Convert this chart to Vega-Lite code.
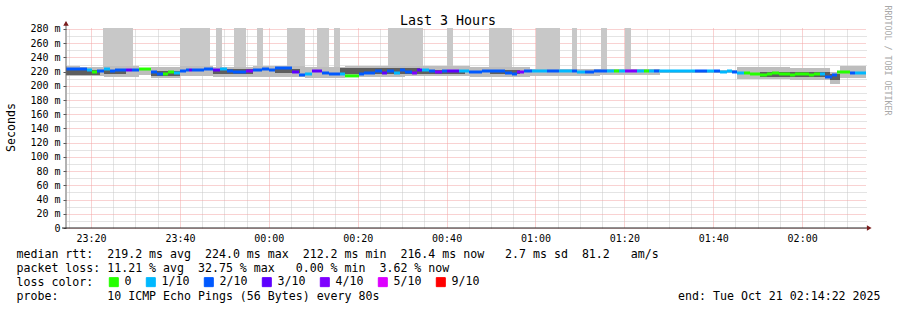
{
  "$schema": "https://vega.github.io/schema/vega-lite/v6.json",
  "width": 800,
  "height": 200,
  "autosize": {"type": "none"},
  "padding": {"left": 66, "top": 28, "right": 31, "bottom": 82},
  "background": "white",
  "config": {"font": "DejaVu Sans Mono", "view": {"stroke": null}},
  "title": {"text": "Last 3 Hours", "frame": "group", "anchor": "middle", "dx": -18, "offset": -33, "baseline": "alphabetic", "fontSize": 13.3, "fontWeight": "normal", "font": "DejaVu Sans Mono", "color": "#000"},
  "datasets": {
    "lost": [
      {"t0": 22.69, "t1": 29.44, "lo": 222, "hi": 290},
      {"t0": 40.02, "t1": 46.77, "lo": 222, "hi": 290},
      {"t0": 48.12, "t1": 49.47, "lo": 222, "hi": 290},
      {"t0": 52.17, "t1": 54.87, "lo": 222, "hi": 290},
      {"t0": 57.34, "t1": 58.69, "lo": 222, "hi": 290},
      {"t0": 64.09, "t1": 68.14, "lo": 222, "hi": 290},
      {"t0": 70.84, "t1": 73.54, "lo": 222, "hi": 290},
      {"t0": 74.67, "t1": 76.02, "lo": 222, "hi": 290},
      {"t0": 86.82, "t1": 94.69, "lo": 222, "hi": 290},
      {"t0": 100.09, "t1": 101.44, "lo": 222, "hi": 290},
      {"t0": 109.54, "t1": 114.72, "lo": 222, "hi": 290},
      {"t0": 120.12, "t1": 125.52, "lo": 222, "hi": 290},
      {"t0": 128.22, "t1": 129.34, "lo": 222, "hi": 290},
      {"t0": 134.74, "t1": 136.09, "lo": 222, "hi": 290},
      {"t0": 140.14, "t1": 141.49, "lo": 222, "hi": 290}
    ],
    "smoke": [
      {"t0": 14.37, "t1": 17.52, "lo": 213.9, "hi": 227.9},
      {"t0": 17.52, "t1": 22.92, "lo": 213.9, "hi": 226.5},
      {"t0": 22.92, "t1": 30.79, "lo": 212.5, "hi": 227.9},
      {"t0": 30.79, "t1": 33.49, "lo": 215.3, "hi": 225.1},
      {"t0": 33.49, "t1": 40.02, "lo": 211.0, "hi": 226.5},
      {"t0": 40.02, "t1": 47.44, "lo": 213.9, "hi": 227.9},
      {"t0": 47.44, "t1": 56.44, "lo": 212.5, "hi": 226.5},
      {"t0": 56.44, "t1": 68.14, "lo": 212.5, "hi": 227.9},
      {"t0": 68.14, "t1": 77.14, "lo": 211.0, "hi": 226.5},
      {"t0": 77.14, "t1": 90.64, "lo": 212.5, "hi": 227.9},
      {"t0": 90.64, "t1": 105.27, "lo": 213.9, "hi": 227.9},
      {"t0": 105.27, "t1": 118.77, "lo": 212.5, "hi": 226.5},
      {"t0": 118.77, "t1": 134.52, "lo": 213.9, "hi": 223.7},
      {"t0": 134.52, "t1": 148.02, "lo": 215.3, "hi": 223.7},
      {"t0": 148.02, "t1": 165.34, "lo": 218.1, "hi": 222.3},
      {"t0": 165.34, "t1": 177.27, "lo": 209.6, "hi": 226.5},
      {"t0": 177.27, "t1": 186.27, "lo": 208.2, "hi": 225.1},
      {"t0": 186.27, "t1": 188.52, "lo": 202.6, "hi": 219.5},
      {"t0": 188.52, "t1": 194.37, "lo": 211.0, "hi": 227.9}
    ],
    "core": [
      {"t0": 14.37, "t1": 22.02, "lo": 215.3, "hi": 222.3},
      {"t0": 22.92, "t1": 27.87, "lo": 216.7, "hi": 222.3},
      {"t0": 33.49, "t1": 40.02, "lo": 213.9, "hi": 220.9},
      {"t0": 47.44, "t1": 56.44, "lo": 216.7, "hi": 223.7},
      {"t0": 61.39, "t1": 67.02, "lo": 218.1, "hi": 223.7},
      {"t0": 76.02, "t1": 94.02, "lo": 216.7, "hi": 225.1},
      {"t0": 94.02, "t1": 104.14, "lo": 216.7, "hi": 222.3},
      {"t0": 109.77, "t1": 116.52, "lo": 216.7, "hi": 222.3},
      {"t0": 170.52, "t1": 186.27, "lo": 212.5, "hi": 219.5},
      {"t0": 186.27, "t1": 188.52, "lo": 208.2, "hi": 216.7}
    ],
    "median": [
      {"t0": 14.37, "t1": 19.09, "v": 223.7, "loss": "2/10"},
      {"t0": 19.09, "t1": 20.22, "v": 222.3, "loss": "1/10"},
      {"t0": 20.22, "t1": 21.34, "v": 219.5, "loss": "0"},
      {"t0": 21.34, "t1": 22.92, "v": 220.9, "loss": "2/10"},
      {"t0": 22.92, "t1": 24.27, "v": 223.7, "loss": "1/10"},
      {"t0": 24.27, "t1": 25.39, "v": 220.9, "loss": "2/10"},
      {"t0": 25.39, "t1": 27.87, "v": 222.3, "loss": "2/10"},
      {"t0": 27.87, "t1": 29.22, "v": 222.3, "loss": "3/10"},
      {"t0": 29.22, "t1": 30.79, "v": 222.3, "loss": "2/10"},
      {"t0": 30.79, "t1": 33.49, "v": 223.7, "loss": "0"},
      {"t0": 33.49, "t1": 34.84, "v": 219.5, "loss": "2/10"},
      {"t0": 34.84, "t1": 36.19, "v": 216.7, "loss": "2/10"},
      {"t0": 36.19, "t1": 37.32, "v": 216.7, "loss": "0"},
      {"t0": 37.32, "t1": 38.67, "v": 219.5, "loss": "0"},
      {"t0": 38.67, "t1": 40.02, "v": 218.1, "loss": "1/10"},
      {"t0": 40.02, "t1": 41.37, "v": 220.9, "loss": "2/10"},
      {"t0": 41.37, "t1": 42.04, "v": 222.3, "loss": "2/10"},
      {"t0": 42.04, "t1": 42.72, "v": 222.3, "loss": "3/10"},
      {"t0": 42.72, "t1": 45.42, "v": 222.3, "loss": "2/10"},
      {"t0": 45.42, "t1": 47.44, "v": 223.7, "loss": "2/10"},
      {"t0": 47.44, "t1": 49.02, "v": 222.3, "loss": "3/10"},
      {"t0": 49.02, "t1": 50.59, "v": 223.7, "loss": "1/10"},
      {"t0": 50.59, "t1": 51.94, "v": 220.9, "loss": "2/10"},
      {"t0": 51.94, "t1": 54.87, "v": 219.5, "loss": "2/10"},
      {"t0": 54.87, "t1": 56.44, "v": 220.9, "loss": "4/10"},
      {"t0": 56.44, "t1": 58.47, "v": 222.3, "loss": "2/10"},
      {"t0": 58.47, "t1": 60.04, "v": 223.7, "loss": "2/10"},
      {"t0": 60.04, "t1": 61.39, "v": 222.3, "loss": "2/10"},
      {"t0": 61.39, "t1": 65.22, "v": 225.1, "loss": "2/10"},
      {"t0": 65.22, "t1": 66.79, "v": 219.5, "loss": "3/10"},
      {"t0": 66.79, "t1": 68.14, "v": 215.3, "loss": "2/10"},
      {"t0": 68.14, "t1": 69.72, "v": 216.7, "loss": "1/10"},
      {"t0": 69.72, "t1": 71.97, "v": 220.9, "loss": "3/10"},
      {"t0": 71.97, "t1": 73.54, "v": 218.1, "loss": "2/10"},
      {"t0": 73.54, "t1": 76.02, "v": 216.7, "loss": "2/10"},
      {"t0": 76.02, "t1": 77.14, "v": 216.7, "loss": "1/10"},
      {"t0": 77.14, "t1": 80.29, "v": 214.0, "loss": "0"},
      {"t0": 80.29, "t1": 81.42, "v": 216.7, "loss": "2/10"},
      {"t0": 81.42, "t1": 83.89, "v": 218.1, "loss": "2/10"},
      {"t0": 83.89, "t1": 85.47, "v": 220.9, "loss": "2/10"},
      {"t0": 85.47, "t1": 86.59, "v": 218.1, "loss": "3/10"},
      {"t0": 86.59, "t1": 88.17, "v": 220.9, "loss": "2/10"},
      {"t0": 88.17, "t1": 89.52, "v": 218.1, "loss": "1/10"},
      {"t0": 89.52, "t1": 90.64, "v": 222.3, "loss": "2/10"},
      {"t0": 90.64, "t1": 92.22, "v": 219.5, "loss": "2/10"},
      {"t0": 92.22, "t1": 93.34, "v": 218.1, "loss": "4/10"},
      {"t0": 93.34, "t1": 94.47, "v": 222.3, "loss": "3/10"},
      {"t0": 94.47, "t1": 96.04, "v": 222.3, "loss": "1/10"},
      {"t0": 96.04, "t1": 97.39, "v": 220.9, "loss": "2/10"},
      {"t0": 97.39, "t1": 98.97, "v": 219.5, "loss": "4/10"},
      {"t0": 98.97, "t1": 100.09, "v": 220.9, "loss": "2/10"},
      {"t0": 100.09, "t1": 102.79, "v": 220.9, "loss": "3/10"},
      {"t0": 102.79, "t1": 105.04, "v": 220.9, "loss": "1/10"},
      {"t0": 105.04, "t1": 107.97, "v": 219.5, "loss": "2/10"},
      {"t0": 107.97, "t1": 113.14, "v": 220.9, "loss": "2/10"},
      {"t0": 113.14, "t1": 114.72, "v": 218.1, "loss": "2/10"},
      {"t0": 114.72, "t1": 115.84, "v": 216.7, "loss": "2/10"},
      {"t0": 115.84, "t1": 117.42, "v": 219.5, "loss": "4/10"},
      {"t0": 117.42, "t1": 119.22, "v": 220.9, "loss": "2/10"},
      {"t0": 119.22, "t1": 122.59, "v": 220.9, "loss": "1/10"},
      {"t0": 122.59, "t1": 125.29, "v": 220.9, "loss": "2/10"},
      {"t0": 125.29, "t1": 128.22, "v": 220.9, "loss": "1/10"},
      {"t0": 128.22, "t1": 129.34, "v": 220.9, "loss": "2/10"},
      {"t0": 129.34, "t1": 131.14, "v": 219.5, "loss": "1/10"},
      {"t0": 131.14, "t1": 133.17, "v": 219.5, "loss": "2/10"},
      {"t0": 133.17, "t1": 136.09, "v": 220.9, "loss": "2/10"},
      {"t0": 136.09, "t1": 137.67, "v": 220.9, "loss": "1/10"},
      {"t0": 137.67, "t1": 138.79, "v": 220.9, "loss": "0"},
      {"t0": 138.79, "t1": 140.14, "v": 220.9, "loss": "1/10"},
      {"t0": 140.14, "t1": 142.84, "v": 220.9, "loss": "4/10"},
      {"t0": 142.84, "t1": 144.42, "v": 220.9, "loss": "1/10"},
      {"t0": 144.42, "t1": 145.54, "v": 220.9, "loss": "0"},
      {"t0": 145.54, "t1": 146.67, "v": 220.9, "loss": "1/10"},
      {"t0": 146.67, "t1": 147.79, "v": 220.9, "loss": "2/10"},
      {"t0": 147.79, "t1": 149.59, "v": 220.9, "loss": "1/10"},
      {"t0": 149.59, "t1": 155.89, "v": 220.9, "loss": "1/10"},
      {"t0": 155.89, "t1": 158.59, "v": 220.9, "loss": "2/10"},
      {"t0": 158.59, "t1": 160.17, "v": 220.9, "loss": "1/10"},
      {"t0": 160.17, "t1": 161.52, "v": 220.9, "loss": "2/10"},
      {"t0": 161.52, "t1": 163.09, "v": 219.5, "loss": "1/10"},
      {"t0": 163.09, "t1": 164.22, "v": 220.9, "loss": "1/10"},
      {"t0": 164.22, "t1": 165.34, "v": 219.5, "loss": "2/10"},
      {"t0": 165.34, "t1": 166.92, "v": 218.1, "loss": "1/10"},
      {"t0": 166.92, "t1": 168.27, "v": 218.1, "loss": "0"},
      {"t0": 168.27, "t1": 170.52, "v": 216.7, "loss": "0"},
      {"t0": 170.52, "t1": 172.09, "v": 215.3, "loss": "0"},
      {"t0": 172.09, "t1": 173.22, "v": 216.7, "loss": "0"},
      {"t0": 173.22, "t1": 174.79, "v": 218.1, "loss": "0"},
      {"t0": 174.79, "t1": 177.27, "v": 216.7, "loss": "0"},
      {"t0": 177.27, "t1": 178.39, "v": 215.3, "loss": "0"},
      {"t0": 178.39, "t1": 181.54, "v": 216.7, "loss": "0"},
      {"t0": 181.54, "t1": 182.67, "v": 215.3, "loss": "0"},
      {"t0": 182.67, "t1": 184.02, "v": 216.7, "loss": "0"},
      {"t0": 184.02, "t1": 185.14, "v": 216.7, "loss": "1/10"},
      {"t0": 185.14, "t1": 186.72, "v": 212.5, "loss": "2/10"},
      {"t0": 186.72, "t1": 187.84, "v": 215.3, "loss": "2/10"},
      {"t0": 187.84, "t1": 190.77, "v": 219.5, "loss": "0"},
      {"t0": 190.77, "t1": 191.89, "v": 218.1, "loss": "2/10"},
      {"t0": 191.89, "t1": 194.37, "v": 218.1, "loss": "1/10"}
    ]
  },
  "layer": [
    {
      "data": {"name": "lost"},
      "mark": {"type": "rect", "color": "#c8c8c8", "clip": true},
      "encoding": {
        "x": {"field": "t0", "type": "quantitative", "scale": {"domain": [14.367, 194.367], "nice": false, "zero": false},
          "axis": {"orient": "top", "values": [15,25,30,35,45,50,55,65,70,75,85,90,95,105,110,115,125,130,135,145,150,155,165,170,175,185,190],
            "grid": true, "gridColor": "#c8c8c8", "gridDash": [1, 1], "ticks": false, "labels": false, "domain": false,
            "title": "end: Tue Oct 21 02:14:22 2025", "titleX": 814, "titleY": 271, "titleAlign": "right", "titleAnchor": "end", "titleBaseline": "alphabetic",
            "titleFontSize": 11.6, "titleFontWeight": "normal", "titleColor": "#000", "titleFont": "DejaVu Sans Mono"}},
        "x2": {"field": "t1"},
        "y": {"field": "lo", "type": "quantitative", "scale": {"domain": [0, 281.4], "nice": false, "zero": true},
          "axis": {"orient": "right", "values": [10,30,50,70,90,110,130,150,170,190,210,230,250,270],
            "grid": true, "gridColor": "#c8c8c8", "gridDash": [1, 1], "ticks": false, "labels": false, "domain": false,
            "title": "RRDTOOL / TOBI OETIKER", "titleAngle": 90, "titleX": 20, "titleY": 32, "titleAlign": "center", "titleBaseline": "middle",
            "titleFontSize": 8.3, "titleFontWeight": "normal", "titleColor": "#a8a8a8", "titleFont": "DejaVu Sans Mono"}},
        "y2": {"field": "hi"}
      }
    },
    {
      "data": {"name": "smoke"},
      "mark": {"type": "rect", "color": "#bdbdbd"},
      "encoding": {
        "x": {"field": "t0", "type": "quantitative", "scale": {"domain": [14.367, 194.367], "nice": false, "zero": false},
          "axis": {"orient": "bottom", "values": [20,40,60,80,100,120,140,160,180],
            "grid": true, "gridColor": "#f2a4a4", "gridDash": [1, 1], "ticks": false, "domain": false,
            "labelExpr": "(((23 + floor(datum.value / 60)) % 24) < 10 ? '0' : '') + ((23 + floor(datum.value / 60)) % 24) + ':' + ((datum.value % 60) < 10 ? '0' : '') + (datum.value % 60)",
            "labelFontSize": 10, "labelColor": "#000", "labelPadding": 5, "labelFont": "DejaVu Sans Mono",
            "title": ["median rtt:\u00a0\u00a0219.2 ms avg\u00a0\u00a0224.0 ms max\u00a0\u00a0212.2 ms min\u00a0\u00a0216.4 ms now\u00a0\u00a0\u00a02.7 ms sd\u00a0\u00a081.2\u00a0\u00a0\u00a0am/s", "packet loss: 11.21 % avg\u00a0\u00a032.75 % max\u00a0\u00a0\u00a00.00 % min\u00a0\u00a03.62 % now", "loss color:", "probe:\u00a0\u00a0\u00a0\u00a0\u00a0\u00a0\u00a010 ICMP Echo Pings (56 Bytes) every 80s"],
            "titleX": -50, "titleY": 29.5, "titleAlign": "left", "titleAnchor": "start", "titleBaseline": "alphabetic", "titleLineHeight": 14,
            "titleFontSize": 11.6, "titleFontWeight": "normal", "titleColor": "#000", "titleFont": "DejaVu Sans Mono"}},
        "x2": {"field": "t1"},
        "y": {"field": "lo", "type": "quantitative", "scale": {"domain": [0, 281.4], "nice": false, "zero": true},
          "axis": {"orient": "left", "values": [0,20,40,60,80,100,120,140,160,180,200,220,240,260,280],
            "grid": true, "gridColor": "#f2a4a4", "gridDash": [1, 1], "ticks": true, "tickSize": 3, "tickColor": "#555", "domain": false,
            "labelExpr": "datum.value == 0 ? '0' : datum.value + ' m'", "labelFontSize": 10, "labelColor": "#000", "labelPadding": 3, "labelFont": "DejaVu Sans Mono",
            "title": "Seconds", "titleX": -55, "titleY": 99, "titleAngle": 270, "titleAlign": "center", "titleBaseline": "middle",
            "titleFontSize": 11.6, "titleFontWeight": "normal", "titleColor": "#000", "titleFont": "DejaVu Sans Mono"}},
        "y2": {"field": "hi"}
      }
    },
    {
      "data": {"name": "core"},
      "mark": {"type": "rect", "color": "#5e5e5e"},
      "encoding": {
        "x": {"field": "t0", "type": "quantitative", "axis": null},
        "x2": {"field": "t1"},
        "y": {"field": "lo", "type": "quantitative", "axis": null},
        "y2": {"field": "hi"}
      }
    },
    {
      "data": {"name": "median"},
      "mark": {"type": "rule", "strokeWidth": 3, "strokeCap": "butt"},
      "encoding": {
        "x": {"field": "t0", "type": "quantitative", "axis": null},
        "x2": {"field": "t1"},
        "y": {"field": "v", "type": "quantitative", "axis": null},
        "color": {"field": "loss", "type": "nominal",
          "scale": {"domain": ["0", "1/10", "2/10", "3/10", "4/10", "5/10", "9/10"], "range": ["#26ff00", "#00b8ff", "#0059ff", "#5e00ff", "#7e00ff", "#dd00ff", "#ff0000"]},
          "legend": {"orient": "none", "legendX": 42, "legendY": 248, "direction": "horizontal", "title": null, "padding": 0,
            "symbolType": "square", "symbolSize": 81, "symbolStrokeColor": "#000", "symbolStrokeWidth": 1,
            "labelFont": "DejaVu Sans Mono", "labelFontSize": 11.6, "labelColor": "#000", "labelOffset": 5, "columnPadding": 12,
            "encode": {"symbols": {"update": {"fill": {"scale": "color", "field": "value"}, "stroke": {"value": "#000"}, "strokeWidth": {"value": 1}, "opacity": {"value": 1}}}}}}
      }
    },
    {
      "data": {"values": [{}]},
      "mark": {"type": "rule", "color": "#666", "strokeWidth": 1},
      "encoding": {
        "x": {"datum": 14.367, "type": "quantitative", "axis": null},
        "y": {"datum": 0, "type": "quantitative", "axis": null},
        "y2": {"datum": 290}
      }
    },
    {
      "data": {"values": [{}]},
      "mark": {"type": "rule", "color": "#222", "strokeWidth": 1},
      "encoding": {
        "x": {"datum": 13.47, "type": "quantitative", "axis": null},
        "x2": {"datum": 195.2},
        "y": {"datum": 0, "type": "quantitative", "axis": null}
      }
    },
    {
      "data": {"values": [{}]},
      "mark": {"type": "point", "shape": "triangle-up", "filled": true, "color": "#7a1c1c", "size": 30, "opacity": 1},
      "encoding": {
        "x": {"datum": 14.367, "type": "quantitative", "axis": null},
        "y": {"datum": 288, "type": "quantitative", "axis": null}
      }
    },
    {
      "data": {"values": [{}]},
      "mark": {"type": "point", "shape": "triangle-right", "filled": true, "color": "#7a1c1c", "size": 30, "opacity": 1},
      "encoding": {
        "x": {"datum": 195.1, "type": "quantitative", "axis": null},
        "y": {"datum": 0, "type": "quantitative", "axis": null}
      }
    }
  ],
  "resolve": {"axis": {"x": "independent", "y": "independent"}}
}
